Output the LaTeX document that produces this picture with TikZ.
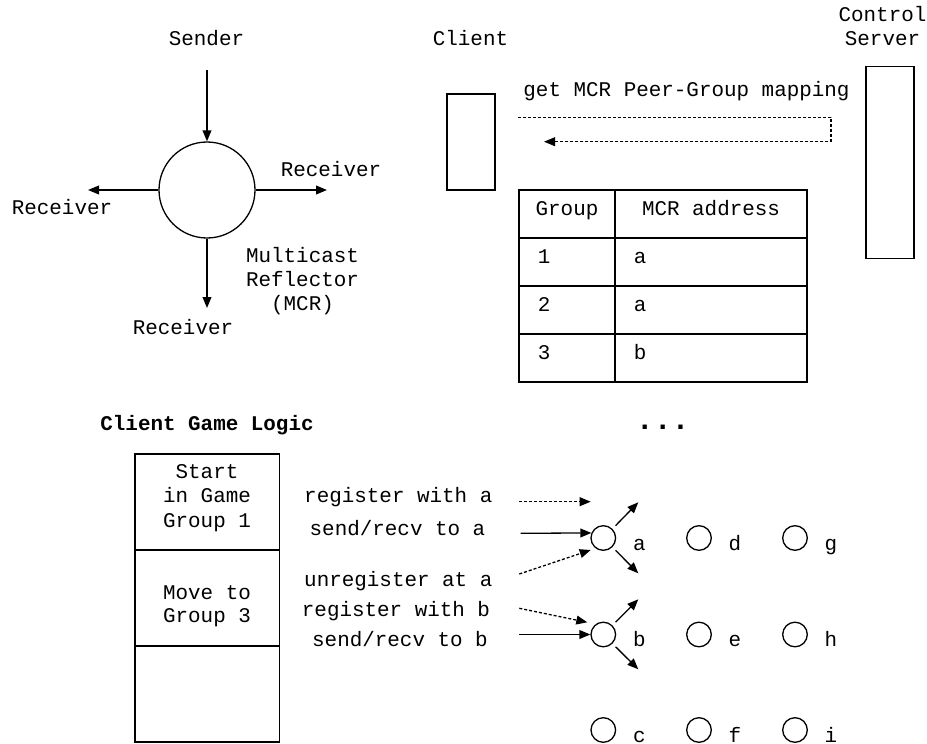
\documentclass[tikz,border=0pt]{standalone}
\usepackage{fontspec}
\setmainfont{Liberation Mono}
\usetikzlibrary{arrows.meta,calc}
\begin{document}
\begin{tikzpicture}[x=0.5pt,y=-0.5pt,
  every node/.style={font=\fontsize{10.45}{12}\selectfont, inner sep=0pt},
  lbl/.style={anchor=base, align=center},
  line/.style={line width=0.65pt},
  arr/.style={line, -{Triangle[length=5.5pt,width=4.4pt]}},
  dotarr/.style={arr, dash pattern=on 1.5pt off 1pt},
  boxed/.style={draw, rectangle, line width=0.65pt},
  peer/.style={draw, circle, line width=0.65pt, minimum size=12.3pt},
]
\path[use as bounding box] (0,0) rectangle (927,744);

% ---------- multicast reflector ----------
% (multi-line labels are placed by the baseline of their last line)
\node[draw, circle, line width=0.65pt, minimum size=48pt] (mcr) at (207,190) {};
\node[lbl] (sender) at (206.5,46) {Sender};
\node[lbl] (recvR) at (331,176) {Receiver};
\node[lbl] (recvL) at (62,214) {Receiver};
\node[lbl] (recvB) at (183,334) {Receiver};
\node[lbl, font=\fontsize{10.45}{12}\selectfont] (mcrlbl) at (302.5,310) {Multicast\\Reflector\\(MCR)};
\coordinate (sIn) at (207,70);
\coordinate (oL) at (88,190);
\coordinate (oR) at (327,190);
\coordinate (oB) at (207,308);
\draw[arr] (sIn) -- (mcr.north);
\draw[arr] (mcr.west) -- (oL);
\draw[arr] (mcr.east) -- (oR);
\draw[arr] (mcr.south) -- (oB);

% ---------- client / control server ----------
\node[lbl] (clientlbl) at (470.5,46) {Client};
\node[lbl, font=\fontsize{10.45}{12.5}\selectfont] (ctrllbl) at (882.5,46) {Control\\Server};
\node[boxed, minimum width=24pt, minimum height=48pt] (client) at (471,142) {};
\node[boxed, minimum width=24pt, minimum height=95.8pt] (server) at (890,162.5) {};
\node[lbl] (getlbl) at (686.5,96) {get MCR Peer-Group mapping};
\coordinate (q1) at (518,117.3);
\coordinate (q2) at (831,117.3);
\coordinate (q3) at (831,141.7);
\coordinate (q4) at (544,141.7);
\draw[dotarr] (q1) -- (q2) -- (q3) -- (q4);

% ---------- mapping table ----------
\draw[line] (519,190) rectangle (807,382);
\draw[line] (615,190) -- (615,382);
\foreach \yy in {238,286,334} \draw[line] (519,\yy) -- (807,\yy);
\node[lbl] (hg) at (567,215) {Group};
\node[lbl] (hm) at (711,215) {MCR address};
\node[anchor=base west] (g1) at (537.5,263) {1};
\node[anchor=base west] (m1) at (633.5,263) {a};
\node[anchor=base west] (g2) at (537.5,311) {2};
\node[anchor=base west] (m2) at (633.5,311) {a};
\node[anchor=base west] (g3) at (537.5,359) {3};
\node[anchor=base west] (m3) at (633.5,359) {b};
\node[lbl, font=\bfseries\fontsize{14.9}{16}\selectfont] (dots) at (662.7,429.5) {...};

% ---------- client game logic ----------
\node[anchor=base west, font=\bfseries\fontsize{10.45}{12}\selectfont] (logiclbl) at (100,430) {Client Game Logic};
\node[boxed, minimum width=72.15pt, minimum height=48pt] (st1) at (207.2,502) {};
\node[boxed, minimum width=72.15pt, minimum height=48pt] (st2) at (207.2,598) {};
\node[boxed, minimum width=72.15pt, minimum height=48pt] (st3) at (207.2,694) {};
\node[lbl, font=\fontsize{10.45}{12.25}\selectfont] (t1) at (207,527) {Start\\in Game\\Group 1};
\node[lbl, font=\fontsize{10.45}{11.8}\selectfont] (t2) at (207,622.7) {Move to\\Group 3};

\node[lbl] (c1) at (398.3,502) {register with a};
\node[lbl] (c2) at (397.5,535) {send/recv to a};
\node[lbl] (c3) at (398.3,586.5) {unregister at a};
\node[lbl] (c4) at (396,616) {register with b};
\node[lbl] (c5) at (400,646) {send/recv to b};

% ---------- reflector grid ----------
\foreach \nm/\cx/\cy in {a/603.3/538, b/603.3/634.5, c/603.3/730,
                        d/699/538, e/699/634.5, f/699/730,
                        g/795/538, h/795/634.5, i/795/730}{
  \node[peer] (p\nm) at (\cx,\cy) {};
  \node[anchor=base] (l\nm) at ($(\cx,\cy)+(36,12)$) {\nm};
}

\coordinate (r1) at (519.3,501.7);
\coordinate (r1e) at (590.7,501.7);
\coordinate (r2) at (520.7,533.3);
\coordinate (r3) at (519.3,574);
\coordinate (r3e) at (590.7,550);
\coordinate (r4) at (519.3,608.3);
\coordinate (r4e) at (587.3,622.3);
\coordinate (r5) at (519.3,634.5);
\draw[dotarr] (r1) -- (r1e);
\draw[arr] (r2) -- (pa.157);
\draw[dotarr] (r3) -- (r3e);
\draw[dotarr] (r4) -- (r4e);
\draw[arr] (r5) -- (pb.west);

\coordinate (au) at (638.3,502.3);
\coordinate (ad) at (638.3,573.3);
\coordinate (bu) at (638.3,599.3);
\coordinate (bd) at (638.3,669.3);
\draw[arr, shorten <=2.2pt] (pa.45) -- (au);
\draw[arr, shorten <=2.2pt] (pa.-45) -- (ad);
\draw[arr, shorten <=2.2pt] (pb.45) -- (bu);
\draw[arr, shorten <=2.2pt] (pb.-45) -- (bd);
\end{tikzpicture}
\end{document}
